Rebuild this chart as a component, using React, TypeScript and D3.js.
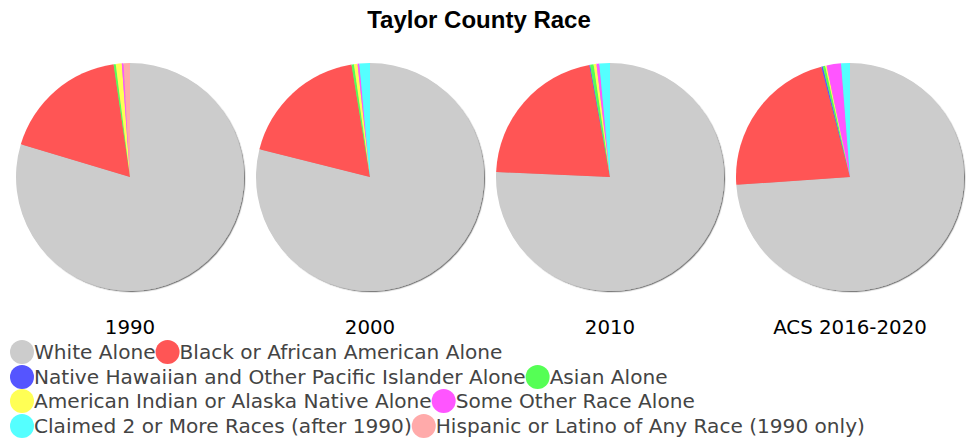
import React, { useEffect, useRef } from "react";
import * as d3 from "d3";

const title = "Taylor County Race";
const years = ["1990", "2000", "2010", "ACS 2016-2020"];
const categories = [
  "White Alone",
  "Black or African American Alone",
  "Native Hawaiian and Other Pacific Islander Alone",
  "Asian Alone",
  "American Indian or Alaska Native Alone",
  "Some Other Race Alone",
  "Claimed 2 or More Races (after 1990)",
  "Hispanic or Latino of Any Race (1990 only)",
];
const colors = ["#cccccc", "#ff5555", "#5555ff", "#55ff55", "#ffff55", "#ff55ff", "#55ffff", "#ffaaaa"];
const values1990 = [79.8, 18.1, 0, 0.3, 0.85, 0.25, 0, 0.9];
const values2000 = [78.9, 18.5, 0, 0.35, 0.5, 0.25, 1.5, 0];
const values2010 = [75.7, 21.4, 0.1, 0.5, 0.4, 0.4, 1.5, 0];
const valuesACS = [73.9, 22.05, 0.2, 0.35, 0.2, 2.05, 1.25, 0];
const seriesValues = [values1990, values2000, values2010, valuesACS];

export default function App() {
  const ref = useRef<SVGSVGElement>(null);
  useEffect(() => {
    const svg = d3.select(ref.current);
    svg.selectAll("*").remove();
    const W = 976;
    const defs = svg.append("defs");
    const f = defs.append("filter").attr("id", "shadow").attr("x", "-10%").attr("y", "-10%").attr("width", "120%").attr("height", "120%");
    f.append("feDropShadow").attr("dx", 1.2).attr("dy", 1.2).attr("stdDeviation", 0.6).attr("flood-color", "#000").attr("flood-opacity", 0.5);

    svg.append("text").attr("x", 479).attr("y", 28).attr("text-anchor", "middle")
      .attr("font-family", "Liberation Sans, Arial, sans-serif").attr("font-weight", "bold").attr("font-size", 24)
      .attr("fill", "#000").text(title);

    const x = d3.scalePoint<string>().domain(years).range([130, 850]);
    const r = 114;
    const cy = 177;
    const pie = d3.pie<number>().sort(null).value((d) => d);
    const arc = d3.arc<d3.PieArcDatum<number>>().innerRadius(0).outerRadius(r);

    years.forEach((yr, i) => {
      const g = svg.append("g").attr("transform", `translate(${x(yr)},${cy})`);
      const pg = g.append("g").attr("filter", "url(#shadow)");
      pg.selectAll("path").data(pie(seriesValues[i])).join("path")
        .attr("d", arc as any).attr("fill", (_d, j) => colors[j]);
      g.append("text").attr("y", 157).attr("text-anchor", "middle")
        .attr("font-family", "DejaVu Sans, sans-serif").attr("font-size", 19.8).attr("fill", "#000").text(yr);
    });

    const lg = svg.append("g");
    const rowY = [352, 377, 401, 426];
    let cx = 10;
    let row = 0;
    const rad = 12;
    categories.forEach((c, i) => {
      const t = lg.append("text").attr("font-family", "DejaVu Sans, sans-serif").attr("font-size", 20.1)
        .attr("fill", "#444").attr("dy", "0.36em").text(c);
      const tw = (t.node() as SVGTextElement).getComputedTextLength();
      if (cx + 2 * rad + tw > W - 10 && cx > 10) {
        row += 1;
        cx = 10;
      }
      const y = rowY[row];
      lg.append("circle").attr("cx", cx + rad).attr("cy", y).attr("r", rad).attr("fill", colors[i]);
      t.attr("x", cx + 2 * rad).attr("y", y);
      cx = cx + 2 * rad + tw;
    });
  }, []);
  return (
    <svg ref={ref} width={976} height={440} style={{ position: "absolute", left: 0, top: 0, background: "#fff" }} />
  );
}
